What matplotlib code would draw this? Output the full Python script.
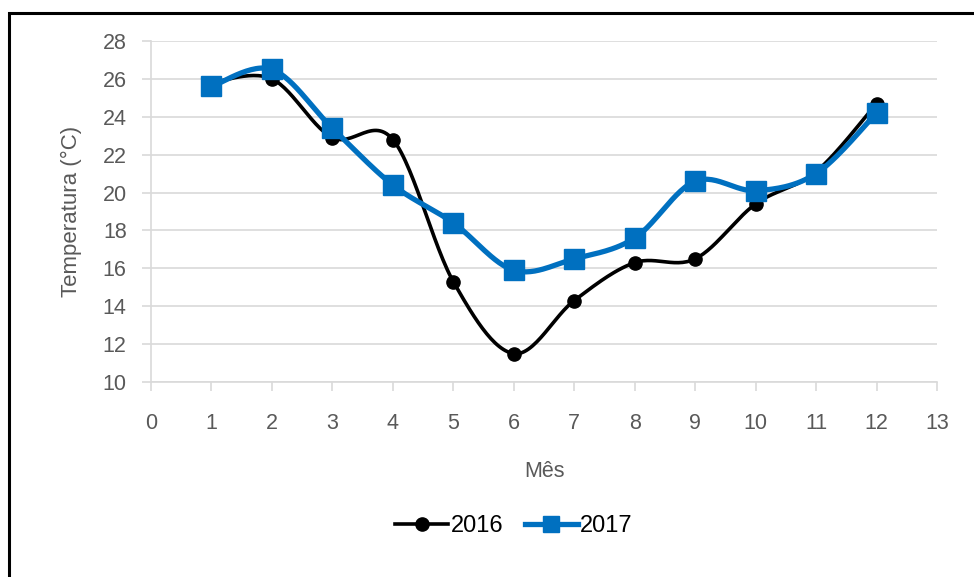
import numpy as np
import matplotlib
matplotlib.use("Agg")
import matplotlib.pyplot as plt
from matplotlib.lines import Line2D
from matplotlib.patches import Rectangle

months = [1, 2, 3, 4, 5, 6, 7, 8, 9, 10, 11, 12]
t2016 = [25.8, 26.0, 22.9, 22.8, 15.3, 11.5, 14.3, 16.3, 16.5, 19.4, 21.1, 24.7]
t2017 = [25.6, 26.5, 23.4, 20.4, 18.4, 15.9, 16.5, 17.6, 20.6, 20.1, 21.0, 24.2]
series_names = ["2016", "2017"]
xticks = list(range(0, 14))
yticks = list(range(10, 29, 2))

plt.rcParams['font.family'] = ['Liberation Sans', 'DejaVu Sans']

def smooth(x, y, n=30):
    x = np.asarray(x, float); y = np.asarray(y, float)
    P = np.column_stack([x, y])
    Pp = np.vstack([P[0], P, P[-1]])
    out = []
    t = np.linspace(0, 1, n)[:, None]
    for i in range(len(P) - 1):
        p0, p1, p2, p3 = Pp[i], Pp[i + 1], Pp[i + 2], Pp[i + 3]
        c1 = p1 + (p2 - p0) / 6.0
        c2 = p2 - (p3 - p1) / 6.0
        seg = ((1 - t) ** 3) * p1 + 3 * ((1 - t) ** 2) * t * c1 + 3 * (1 - t) * t ** 2 * c2 + t ** 3 * p2
        out.append(seg if i == 0 else seg[1:])
    out = np.vstack(out)
    return out[:, 0], out[:, 1]

fig = plt.figure(figsize=(9.74, 5.77), dpi=100)
ax = fig.add_axes([151 / 974, 1 - 382 / 577, (937 - 151) / 974, (382 - 41) / 577])

gray = '#595959'
grid = '#D9D9D9'
blue = '#0070C0'

sx, sy = smooth(months, t2016)
ax.plot(sx, sy, color='black', lw=2.6, zorder=3)
ax.plot(months, t2016, 'o', color='black', ms=9.5, zorder=4)
sx, sy = smooth(months, t2017)
ax.plot(sx, sy, color=blue, lw=3.8, zorder=5)
ax.plot(months, t2017, 's', color=blue, ms=14, zorder=6)

ax.set_xlim(0, 13)
ax.set_ylim(10, 28)
ax.set_xticks(xticks)
ax.set_yticks(yticks)
ax.yaxis.grid(True, color=grid, lw=1.2)
ax.set_axisbelow(True)
for s in ['top', 'right']:
    ax.spines[s].set_visible(False)
for s in ['left', 'bottom']:
    ax.spines[s].set_color(grid)
    ax.spines[s].set_linewidth(1.2)
ax.tick_params(axis='both', colors=grid, length=6.5, width=1.2, labelcolor=gray, labelsize=15.5)
ax.tick_params(axis='x', pad=16)
ax.tick_params(axis='y', pad=11)

ax.set_xlabel('Mês', color=gray, fontsize=15.5, labelpad=19.5)
ax.set_ylabel('Temperatura (°C)', color=gray, fontsize=16, labelpad=15)

handles = [
    Line2D([], [], color='black', lw=2.6, marker='o', ms=9.5),
    Line2D([], [], color=blue, lw=3.8, marker='s', ms=11),
]
fig.legend(handles, series_names, loc='center', bbox_to_anchor=(514 / 974, 1 - 526 / 577),
           ncol=2, frameon=False, fontsize=17, labelcolor='black', handlelength=2.25,
           handletextpad=0.1, columnspacing=0.9)

fig.add_artist(Rectangle((9 / 974, -0.1), 1.2, 1 - 13 / 577 + 0.1, transform=fig.transFigure,
                         fill=False, edgecolor='black', lw=2.2))

fig.savefig('out.png', dpi=100)
